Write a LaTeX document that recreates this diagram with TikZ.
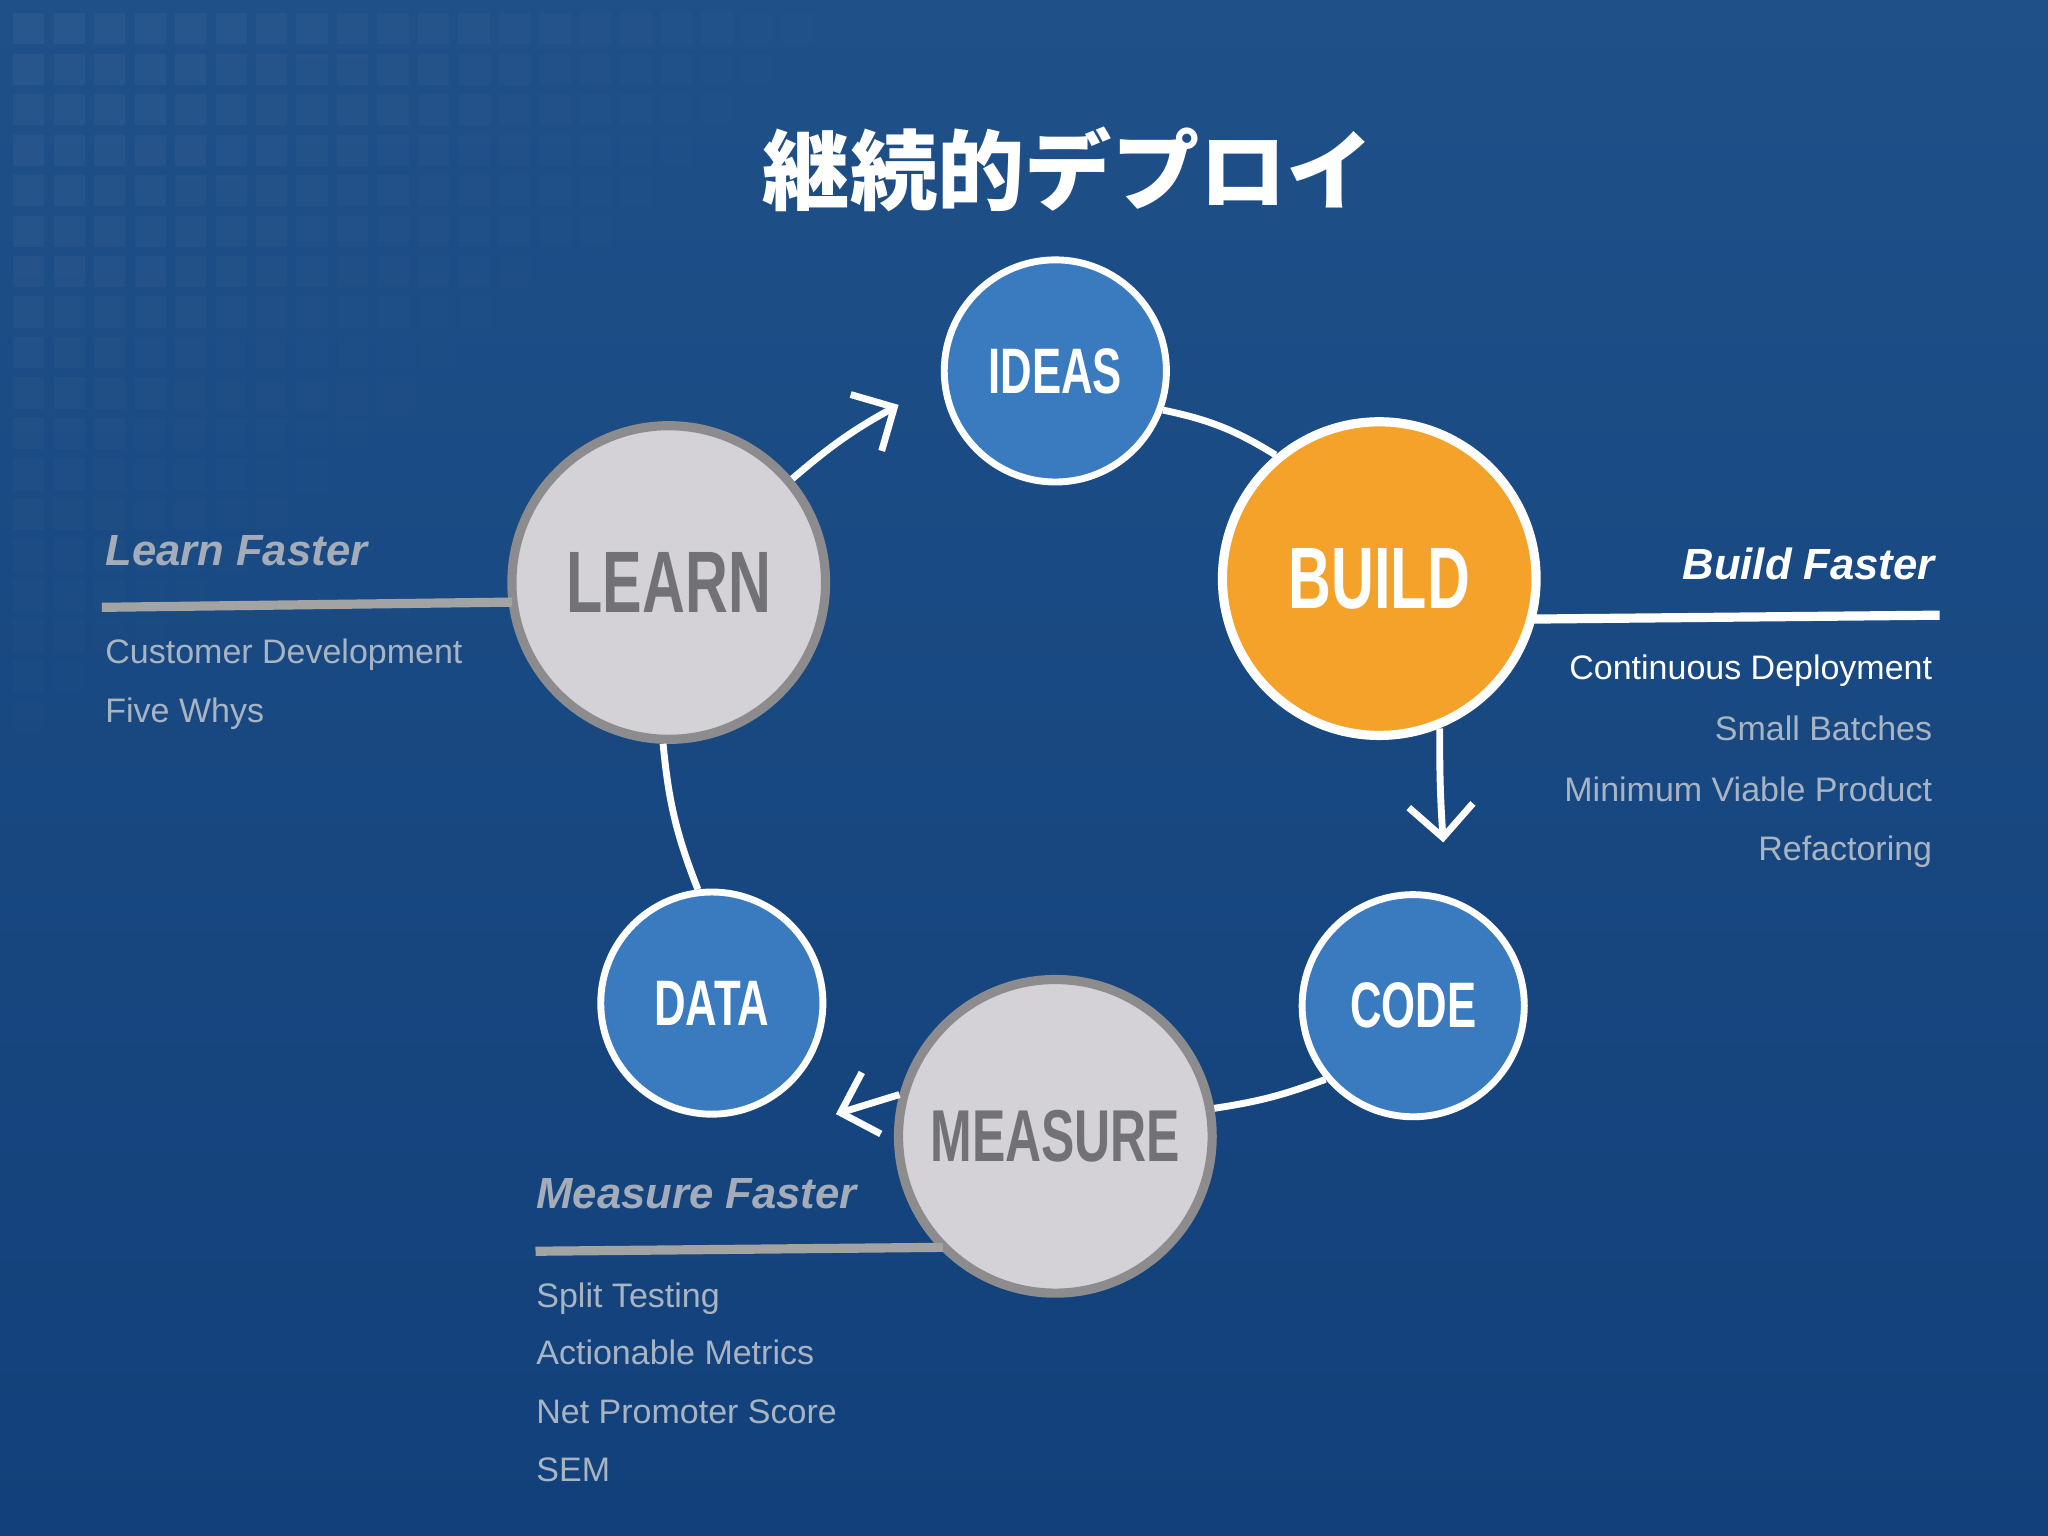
\documentclass[tikz,border=0pt]{standalone}
\usepackage{fontspec}
\setmainfont{Liberation Sans}
\newfontfamily\cjk{Noto Sans CJK JP}
\newfontfamily\narrow[FakeStretch=0.68]{Liberation Sans}
\usetikzlibrary{arrows.meta}
\definecolor{bgA}{HTML}{1F5088}
\definecolor{bgB}{HTML}{12407A}
\definecolor{cblue}{HTML}{3A7BC0}
\definecolor{corange}{HTML}{F4A22A}
\definecolor{cgray}{HTML}{D4D2D6}
\definecolor{cgrayb}{HTML}{8C8C8E}
\definecolor{lbl}{HTML}{727276}
\definecolor{sub}{HTML}{A9B4C2}
\begin{document}
\begin{tikzpicture}[x=0.01cm,y=-0.01cm,
  smallc/.style={circle,fill=cblue,draw=white,line width=1.5pt,minimum size=1.70cm,inner sep=0,text=white,font=\narrow\bfseries\fontsize{14}{15}\selectfont},
  bigc/.style={circle,line width=2pt,minimum size=2.40cm,inner sep=0,font=\narrow\bfseries\fontsize{19}{20}\selectfont},
  conn/.style={white,line width=1.5pt},
  arr/.style={conn,-{Straight Barb[length=7pt,width=14pt,line width=1.5pt]}},
  head/.style={inner sep=0,font=\bfseries\itshape\fontsize{9.5}{11}\selectfont},
  item/.style={inner sep=0,font=\fontsize{7.4}{9}\selectfont,text=sub}]
\useasboundingbox (0,0) rectangle (1568,1176);
\shade[top color=bgA,bottom color=bgB] (0,0) rectangle (1568,1176);
% faint grid top-left
\foreach \i in {0,...,24}{\foreach \j in {0,...,20}{
  \pgfmathsetmacro\op{max(0,0.045-0.002*\i-0.0022*\j)}
  \fill[white,opacity=\op] (10+\i*31,10+\j*31) rectangle ++(24,24);}}
\node[font=\cjk\bfseries\fontsize{19}{22}\selectfont,text=white] (title) at (818,130) {継続的デプロイ};
% circles
\node[smallc] (ideas) at (808,284) {IDEAS};
\node[smallc] (code) at (1082,770) {CODE};
\node[smallc] (data) at (545,768) {DATA};
\node[bigc,fill=corange,draw=white,text=white] (build) at (1056,443) {BUILD};
\node[bigc,fill=cgray,draw=cgrayb,text=lbl] (learn) at (512,446) {LEARN};
\node[bigc,fill=cgray,draw=cgrayb,text=lbl,font=\narrow\bfseries\fontsize{16}{18}\selectfont] (measure) at (808,870) {MEASURE};
% connectors
\draw[conn] (ideas.-20) to[bend left=10] (build.130);
\coordinate (bctip) at (1105,645);
\draw[arr] (build.-68) to[bend left=-2] (bctip);
\draw[conn] (code.-140) to[bend left=6] (measure.10);
\coordinate (mdtip) at (640,853);
\draw[arr] (measure.165) -- (mdtip);
\draw[conn] (data.97) to[bend left=8] (learn.-92);
\coordinate (litip) at (688,310);
\draw[arr] (learn.40) to[bend left=6] (litip);
% side lines
\coordinate (l1) at (78,465);
\coordinate (l2) at (392,461);
\draw[cgrayb!80!white,line width=2pt] (l1) -- (l2);
\coordinate (b0) at (1172,474);
\coordinate (b1) at (1485,471);
\draw[white,line width=2pt] (b0) -- (b1);
\coordinate (m1) at (410,958);
\coordinate (m2) at (722,955);
\draw[cgrayb!80!white,line width=2pt] (m1) -- (m2);
% texts
\node[head,text=sub!85!gray,anchor=base west] (lf) at (80,433) {Learn Faster};
\node[item,anchor=base west] (t2) at (80,508) {Customer Development};
\node[item,anchor=base west] (t3) at (80,553) {Five Whys};
\node[head,text=white,anchor=base east] (bf) at (1482,444) {Build Faster};
\node[item,text=white,anchor=base east] (u2) at (1480,520) {Continuous Deployment};
\node[item,anchor=base east] (u3) at (1480,567) {Small Batches};
\node[item,anchor=base east] (u4) at (1480,614) {Minimum Viable Product};
\node[item,anchor=base east] (u5) at (1480,659) {Refactoring};
\node[head,text=sub!85!gray,anchor=base west] (mf) at (410,925) {Measure Faster};
\node[item,anchor=base west] (v2) at (410,1001) {Split Testing};
\node[item,anchor=base west] (v3) at (410,1045) {Actionable Metrics};
\node[item,anchor=base west] (v4) at (410,1090) {Net Promoter Score};
\node[item,anchor=base west] (v5) at (410,1134) {SEM};
\end{tikzpicture}
\end{document}
